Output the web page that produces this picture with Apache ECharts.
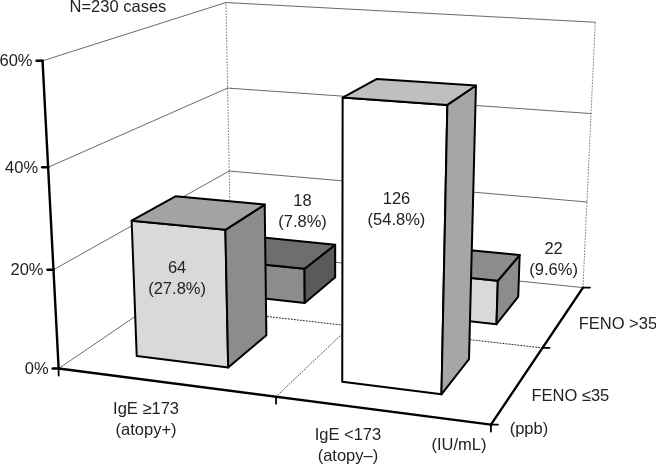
<!DOCTYPE html>
<html><head><meta charset="utf-8">
<style>html,body{margin:0;padding:0;background:#fff}#c{width:656px;height:465px}</style>
<script src="https://cdn.jsdelivr.net/npm/echarts@6/dist/echarts.min.js"></script>
</head><body><div id="c"></div>
<script>
// ---- data ----
const igeCategories = ['IgE \u2265173\n(atopy+)', 'IgE <173\n(atopy\u2013)'];
const fenoCategories = ['FENO \u226435', 'FENO >35'];
const caseCounts = [[64, 18], [126, 22]];        // [ige][feno]
const casePercents = [[27.8, 7.8], [54.8, 9.6]]; // [ige][feno]
const percentTicks = [0, 20, 40, 60];
const titleText = 'N=230 cases';
const iuUnit = '(IU/mL)';
const ppbUnit = '(ppb)';

// ---- styling / layout (not data) ----
const FONT = '16.5px "Liberation Sans", Arial, sans-serif';
const TEXT = '#222';
const BAR_U = 0.455, BAR_V = 0.47, BAR_SHIFT_U = -0.007, DIVIDER_U = 0.524;
const barLook = {
  '0,0': {front: '#d9d9d9', right: '#8c8c8c', top: '#a3a3a3', label: [-1, 54], edge: 2},
  '0,1': {front: '#8c8c8c', right: '#5a5a5a', top: '#6e6e6e', label: [40, -52], edge: 2},
  '1,0': {front: '#ffffff', right: '#a6a6a6', top: '#bfbfbf', label: [2, 109], edge: 2},
  '1,1': {front: '#d9d9d9', right: '#8c8c8c', top: '#8c8c8c', label: [101, -16], edge: 2}
};
const iOffsets = [[-14, 38], [-28, 36.5]];
const fOffsets = [[52, 13], [54, 8]];

// Perspective camera calibrated from the chart box: [u, v, w, px, py, weight]
const boxAnchors = [
  [0,0,0,57,367,5],[1,0,0,490,425,5],[1,1,0,583,288,5],[0,1,0,230,252,2],
  [0,0,1,42,62,5],[1,1,1,595,21,5],[0,1,1,227,3,5],
  [0,0,2/3,46.7,167,1],[0,0,1/3,51.7,268.7,1],
  [1,1,2/3,590.7,113,1],[1,1,1/3,586.3,201.7,1],
  [0,1,2/3,227.5,88,1],[0,1,1/3,229,171,1],
  [.5,0,0,276,395,2],[1,.5,0,541,350,2]
];
function solve(A, b) {
  const n = b.length;
  for (let i = 0; i < n; i++) {
    let m = i;
    for (let r = i + 1; r < n; r++) if (Math.abs(A[r][i]) > Math.abs(A[m][i])) m = r;
    [A[i], A[m]] = [A[m], A[i]]; [b[i], b[m]] = [b[m], b[i]];
    for (let r = i + 1; r < n; r++) {
      const f = A[r][i] / A[i][i];
      for (let c = i; c < n; c++) A[r][c] -= f * A[i][c];
      b[r] -= f * b[i];
    }
  }
  const x = new Array(n);
  for (let i = n - 1; i >= 0; i--) {
    let s = b[i];
    for (let c = i + 1; c < n; c++) s -= A[i][c] * x[c];
    x[i] = s / A[i][i];
  }
  return x;
}
const CAM = (function () {
  const N = Array.from({length: 11}, () => new Array(11).fill(0)), R = new Array(11).fill(0);
  const add = (row, rhs, k) => { for (let i = 0; i < 11; i++) { R[i] += k * row[i] * rhs; for (let j = 0; j < 11; j++) N[i][j] += k * row[i] * row[j]; } };
  boxAnchors.forEach(([u, v, w, x, y, k]) => {
    add([u, v, w, 1, 0, 0, 0, 0, -x * u, -x * v, -x * w], x, k);
    add([0, 0, 0, 0, u, v, w, 1, -y * u, -y * v, -y * w], y, k);
  });
  return solve(N, R);
})();
function P(u, v, w) {
  const d = CAM[8] * u + CAM[9] * v + CAM[10] * w + 1;
  return [(CAM[0] * u + CAM[1] * v + CAM[2] * w + CAM[3]) / d,
          (CAM[4] * u + CAM[5] * v + CAM[6] * w + CAM[7]) / d];
}
const line = (a, b, stroke, width, dash, z) => ({
  type: 'line', z2: z || 0,
  shape: {x1: a[0], y1: a[1], x2: b[0], y2: b[1]},
  style: {stroke, lineWidth: width, lineDash: dash || null, lineCap: 'round'}
});
const poly = (pts, fill, e) => ({
  type: 'polygon', shape: {points: pts},
  style: {fill, stroke: '#000', lineWidth: e, lineJoin: 'round'}
});
const txt = (s, x, y, align) => ({
  type: 'text',
  style: {text: s, x, y, font: FONT, fill: TEXT, align: align || 'center', verticalAlign: 'middle',
          textAlign: align || 'center', textVerticalAlign: 'middle', lineHeight: 21}
});
const frac = (api, pct) => {
  const y0 = api.coord([0, 0])[1], y1 = api.coord([0, 60])[1];
  return (y0 - api.coord([0, pct])[1]) / (y0 - y1);
};
const uOf = (api, i, params) => (api.coord([i, 0])[0] - params.coordSys.x) / params.coordSys.width;

function renderBox(params, api) {
  const c = [];
  const thin = '#444', dot = [1, 2];
  percentTicks.forEach(t => {
    const w = frac(api, t);
    if (t > 0) {
      c.push(line(P(0, 0, w), P(0, 1, w), thin, 0.8));
      c.push(line(P(0, 1, w), P(1, 1, w), thin, 0.8));
    }
  });
  c.push(line(P(0, 0, 0), P(0, 1, 0), thin, 0.8));
  c.push(line(P(0, 1, 0), P(1, 1, 0), thin, 0.8));
  c.push(line(P(0, 1, 0), P(0, 1, 1), '#666', 0.8, dot));
  c.push(line(P(1, 1, 0), P(1, 1, 1), '#666', 0.8, dot));
  c.push(line(P(DIVIDER_U, 0, 0), P(DIVIDER_U, 1, 0), '#333', 0.9, dot));
  c.push(line(P(0, .5, 0), P(1, .5, 0), '#222', 1, dot));
  return {type: 'group', children: c};
}
function renderFrame(params, api) {
  const c = [];
  c.push(line(P(0, 0, 0), P(0, 0, 1), '#000', 2.4));
  c.push(line(P(0, 0, 0), P(1, 0, 0), '#000', 2.4));
  c.push(line(P(1, 0, 0), P(1, 1, 0), '#000', 2.4));
  percentTicks.forEach(t => {
    const p = P(0, 0, frac(api, t));
    c.push(line([p[0] - 6, p[1]], p, '#000', 2.4));
    c.push(txt(t + '%', p[0] - 10, p[1] + 1, 'right'));
  });
  [0, DIVIDER_U, 1].forEach(u => {
    const p = P(u, 0, 0);
    c.push(line(p, [p[0], p[1] + 7], '#000', 1.8));
  });
  [0, .5, 1].forEach(v => {
    const p = P(1, v, 0);
    c.push(line(p, [p[0] + 7, p[1]], '#000', 1.8));
  });
  igeCategories.forEach((s, i) => {
    const p = P((i + .5) / igeCategories.length, 0, 0);
    c.push(txt(s, p[0] + iOffsets[i][0], p[1] + iOffsets[i][1]));
  });
  fenoCategories.forEach((s, i) => {
    const p = P(1, (i + .5) / fenoCategories.length, 0);
    c.push(txt(s, p[0] + fOffsets[i][0], p[1] + fOffsets[i][1]));
  });
  const br = P(1, 0, 0), tl = P(0, 1, 1);
  c.push(txt(iuUnit, br[0] - 32, br[1] + 21));
  c.push(txt(ppbUnit, br[0] + 38, br[1] + 5));
  c.push(txt(titleText, tl[0] - 108, tl[1] + 5));
  return {type: 'group', children: c};
}
function renderBar(params, api) {
  const i = api.value(0), f = api.value(2), pct = api.value(1), cnt = api.value(3);
  const look = barLook[i + ',' + f];
  const uc = uOf(api, i, params) + BAR_SHIFT_U, vc = (f + .5) / fenoCategories.length;
  const du = BAR_U / igeCategories.length / 2, dv = BAR_V / fenoCategories.length / 2;
  const u0 = uc - du, u1 = uc + du, v0 = vc - dv, v1 = vc + dv, w = frac(api, pct);
  const e = look.edge;
  const lab = P(uc, v0, w);
  return {type: 'group', children: [
    poly([P(u0, v0, 0), P(u1, v0, 0), P(u1, v0, w), P(u0, v0, w)], look.front, e),
    poly([P(u1, v0, 0), P(u1, v1, 0), P(u1, v1, w), P(u1, v0, w)], look.right, e),
    poly([P(u0, v0, w), P(u1, v0, w), P(u1, v1, w), P(u0, v1, w)], look.top, e),
    txt(cnt + '\n(' + pct + '%)', lab[0] + look.label[0], lab[1] + look.label[1])
  ]};
}
// back row first, so the front row hides it
const barRows = [];
[1, 0].forEach(f => igeCategories.forEach((_, i) => barRows.push([i, casePercents[i][f], f, caseCounts[i][f]])));

const chart = echarts.init(document.getElementById('c'), null, {renderer: 'canvas'});
chart.setOption({
  animation: false,
  backgroundColor: '#fff',
  grid: {left: 0, right: 0, top: 0, bottom: 0},
  xAxis: {type: 'category', data: igeCategories, show: false},
  yAxis: {type: 'value', min: 0, max: 60, interval: 20, show: false},
  series: [
    {type: 'custom', clip: false, z: 1, silent: true, data: [[0, 0]], renderItem: renderBox},
    {type: 'custom', clip: false, z: 2, silent: true, data: [[0, 0]], renderItem: renderFrame},
    {type: 'custom', clip: false, z: 3, silent: true, data: barRows, encode: {x: 0, y: 1}, renderItem: renderBar}
  ]
});
</script></body></html>
